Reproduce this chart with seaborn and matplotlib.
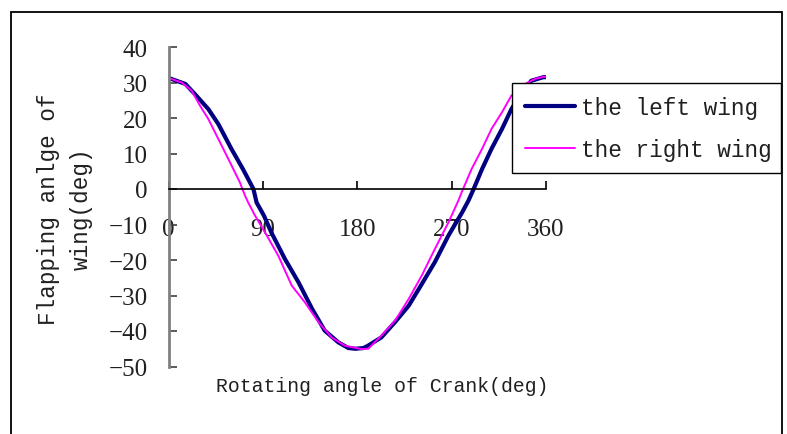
import matplotlib
matplotlib.use("Agg")
import matplotlib.pyplot as plt
import seaborn as sns
import pandas as pd
from matplotlib.patches import Rectangle

# crank angle (deg) and flapping angle (deg)
left_angle = [0, 16, 25, 38, 47.5, 60, 71, 81, 84, 91, 98, 111, 124, 137, 149, 162, 171.5,
              178, 186, 190.5, 203, 216, 229, 241.5, 254, 267, 280, 286, 291, 299, 308,
              318, 327, 337, 346, 357.5, 360]
left_flap = [31.3, 29.6, 26.8, 22.5, 18.3, 11.3, 5.6, 0, -3.8, -7.5, -12.2, -19.7, -26.3,
             -33.8, -39.9, -43.2, -44.8, -45, -44.8, -44.1, -41.8, -37.5, -32.9, -26.8,
             -20.6, -13.1, -6.6, -3.3, 0, 5.6, 11.3, 16.9, 22.5, 27.2, 30.5, 31.5, 31.5]

right_angle = [0, 12.6, 22, 30, 38, 47.5, 57, 68, 73, 76, 82.5, 92, 104.7, 117.5, 130, 143,
               155.6, 168, 184, 190.5, 203, 216, 229, 241.5, 254, 267, 276.4, 279.6, 289,
               299, 308, 318, 327, 340, 349.5, 357.5, 360]
right_flap = [31.3, 30, 27.7, 23.5, 19.7, 14.1, 8.5, 1.9, -1.9, -3.8, -7.5, -12.2, -18.8,
              -27.2, -31.9, -37.5, -41.8, -44.1, -45.1, -45, -41.3, -37.1, -31, -24.4,
              -16.9, -9.4, -3.3, -0.9, 5.6, 11.3, 16.9, 21.6, 26.3, 29.6, 31, 31.6, 31.6]

x_ticks = [0, 90, 180, 270, 360]
y_ticks = [40, 30, 20, 10, 0, -10, -20, -30, -40, -50]

left = pd.DataFrame({"angle": left_angle, "flap": left_flap})
right = pd.DataFrame({"angle": right_angle, "flap": right_flap})

sns.set_style("white")
plt.rcParams["font.family"] = ["Liberation Mono", "DejaVu Sans"]

W, H = 787, 435
fig = plt.figure(figsize=(W / 100, H / 100), dpi=100)
ax = fig.add_axes([168.5 / W, 1 - 367.5 / H, 377.5 / W, 319.5 / H])

sns.lineplot(data=left, x="angle", y="flap", ax=ax, color="#000080", linewidth=3.0,
             label="the left wing", sort=False)
sns.lineplot(data=right, x="angle", y="flap", ax=ax, color="#FF00FF", linewidth=1.4,
             label="the right wing", sort=False)

ax.set_xlim(0, 360)
ax.set_ylim(-50, 40)
ax.set_xticks(x_ticks)
ax.set_yticks(y_ticks)
ax.set_xlabel("")
ax.set_ylabel("")

ax.spines["top"].set_visible(False)
ax.spines["right"].set_visible(False)
ax.spines["bottom"].set_position(("data", 0))
ax.spines["bottom"].set_color("black")
ax.spines["bottom"].set_linewidth(1.2)
ax.spines["left"].set_color("#808080")
ax.spines["left"].set_linewidth(2)

ax.tick_params(axis="x", bottom=True, direction="in", length=6, width=1.2, color="black", pad=21)
ax.tick_params(axis="y", left=True, direction="in", length=6, width=1.2, color="#404040", pad=15)
for lab in ax.get_xticklabels() + ax.get_yticklabels():
    lab.set_fontfamily("Liberation Serif")
    lab.set_fontsize(18)
    lab.set_color("#202020")

fig.text(382.5 / W, 1 - 387 / H, "Rotating angle of Crank(deg)", ha="center", va="center",
         fontsize=14.2, color="#202020")
fig.text(65 / W, 1 - 209 / H, "Flapping anlge of\nwing(deg)", ha="center", va="center",
         rotation=90, fontsize=16.3, linespacing=1.5, multialignment="center", color="#202020")

leg = ax.legend(bbox_to_anchor=(512 / W, 1 - 174 / H, 269 / W, 90 / H),
                bbox_transform=fig.transFigure, loc="upper left", mode="expand",
                borderaxespad=0, fontsize=16.4, frameon=True, fancybox=False,
                handlelength=2.2, handletextpad=0.3, borderpad=0.55, labelspacing=0.84)
leg.get_frame().set_edgecolor("black")
leg.get_frame().set_linewidth(1)
leg.get_frame().set_alpha(1)
for t in leg.get_texts():
    t.set_color("#202020")

fig.patches.append(Rectangle((11 / W, -0.1), 771 / W, 1.1 - 13 / H, transform=fig.transFigure,
                             fill=False, edgecolor="black", linewidth=1.3))

fig.savefig("out.png", dpi=100)
